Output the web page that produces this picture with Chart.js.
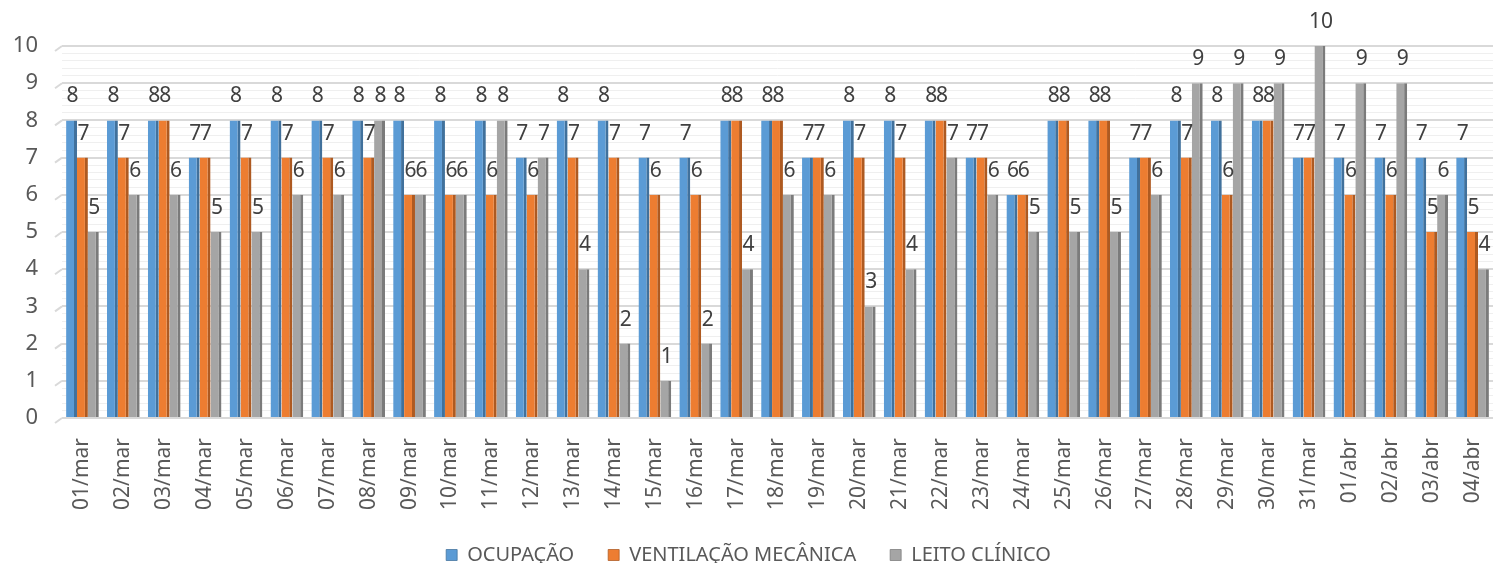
<!DOCTYPE html>
<html>
<head>
<meta charset="utf-8">
<script src="https://cdn.jsdelivr.net/npm/chart.js@4"></script>
<style>
  html, body { margin: 0; padding: 0; background: #fff; }
  #wrap { width: 1493px; height: 563px; position: relative; }
</style>
</head>
<body>
<div id="wrap"><canvas id="chart"></canvas></div>
<script>
const categories = [
  "01/mar", "02/mar", "03/mar", "04/mar", "05/mar", "06/mar", "07/mar", "08/mar", "09/mar", "10/mar",
  "11/mar", "12/mar", "13/mar", "14/mar", "15/mar", "16/mar", "17/mar", "18/mar", "19/mar", "20/mar",
  "21/mar", "22/mar", "23/mar", "24/mar", "25/mar", "26/mar", "27/mar", "28/mar", "29/mar", "30/mar",
  "31/mar", "01/abr", "02/abr", "03/abr", "04/abr"
];
const ocupacao = [8, 8, 8, 7, 8, 8, 8, 8, 8, 8, 8, 7, 8, 8, 7, 7, 8, 8, 7, 8, 8, 8, 7, 6, 8, 8, 7, 8, 8, 8, 7, 7, 7, 7, 7];
const ventilacao = [7, 7, 8, 7, 7, 7, 7, 7, 6, 6, 6, 6, 7, 7, 6, 6, 8, 8, 7, 7, 7, 8, 7, 6, 8, 8, 7, 7, 6, 8, 7, 6, 6, 5, 5];
const leitoClinico = [5, 6, 6, 5, 5, 6, 6, 8, 6, 6, 8, 7, 4, 2, 1, 2, 4, 6, 6, 3, 4, 7, 6, 5, 5, 5, 6, 9, 9, 9, 10, 9, 9, 6, 4];
const seriesNames = ["OCUPAÇÃO", "VENTILAÇÃO MECÂNICA", "LEITO CLÍNICO"];

const FONT = "'Noto Sans', sans-serif";

// value labels above each bar
const barLabels = {
  id: "barLabels",
  afterDatasetsDraw(chart) {
    const ctx = chart.ctx;
    ctx.save();
    ctx.font = "21px " + FONT;
    ctx.fillStyle = "#404040";
    ctx.textAlign = "center";
    ctx.textBaseline = "middle";
    chart.data.datasets.forEach((ds, i) => {
      chart.getDatasetMeta(i).data.forEach((bar, j) => {
        ctx.fillText(ds.data[j], bar.x + 1, bar.y - 24);
      });
    });
    ctx.restore();
  }
};

// slanted edge of the back wall, like the 3D look of the original
const wallEdge = {
  id: "wallEdge",
  beforeDatasetsDraw(chart) {
    const { ctx, chartArea, scales } = chart;
    ctx.save();
    ctx.strokeStyle = "#d9d9d9";
    ctx.lineWidth = 2;
    for (let v = 0; v <= 10; v++) {
      const y = scales.y.getPixelForValue(v);
      ctx.beginPath();
      ctx.moveTo(chartArea.left - 7, y + 5);
      ctx.lineTo(chartArea.left, y);
      ctx.stroke();
    }
    ctx.restore();
  }
};

function makeSet(label, data, color, side) {
  return {
    label,
    data,
    backgroundColor: color,
    borderColor: side,
    borderWidth: { top: 0, right: 3, bottom: 0, left: 0 },
    borderSkipped: false,
    categoryPercentage: 0.8,
    barPercentage: 1.0
  };
}

new Chart(document.getElementById("chart"), {
  type: "bar",
  data: {
    labels: categories,
    datasets: [
      makeSet(seriesNames[0], ocupacao, "#5b9bd5", "#41719c"),
      makeSet(seriesNames[1], ventilacao, "#ed7d31", "#ae5a21"),
      makeSet(seriesNames[2], leitoClinico, "#a5a5a5", "#7b7b7b")
    ]
  },
  options: {
    responsive: true,
    maintainAspectRatio: false,
    animation: false,
    layout: { padding: { top: 46, right: 0, left: 4, bottom: -12 } },
    plugins: {
      legend: {
        position: "bottom",
        labels: {
          font: { family: FONT, size: 20 },
          color: "#595959",
          boxWidth: 11,
          boxHeight: 11,
          padding: 34
        }
      },
      tooltip: { enabled: false }
    },
    scales: {
      x: {
        grid: { display: false },
        border: { display: false },
        afterFit: (scale) => {
          scale.height = 93;
          scale.paddingLeft = 0;
          scale.paddingRight = 0;
        },
        ticks: {
          font: { family: FONT, size: 21 },
          color: "#595959",
          minRotation: 90,
          maxRotation: 90,
          autoSkip: false,
          padding: 12
        }
      },
      y: {
        min: 0,
        max: 10,
        border: { display: false },
        afterFit: (scale) => { scale.width = 58; },
        grid: {
          drawTicks: false,
          color: (c) => Math.abs(c.tick.value - Math.round(c.tick.value)) < 1e-6 ? "#d9d9d9" : "#efefef",
          lineWidth: (c) => Math.abs(c.tick.value - Math.round(c.tick.value)) < 1e-6 ? 2 : 1
        },
        ticks: {
          stepSize: 0.2,
          maxTicksLimit: 100,
          autoSkip: false,
          padding: 24,
          font: { family: FONT, size: 22 },
          color: "#595959",
          callback: (v) => Math.abs(v - Math.round(v)) < 1e-6 ? Math.round(v) : ""
        }
      }
    }
  },
  plugins: [wallEdge, barLabels]
});
</script>
</body>
</html>
